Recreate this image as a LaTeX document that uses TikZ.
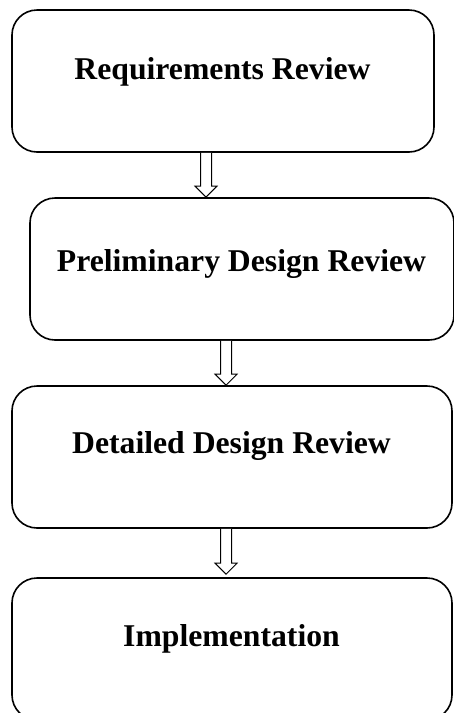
\documentclass[tikz,border=0pt]{standalone}
\usepackage{fontspec}
\setmainfont{Liberation Serif}
\usetikzlibrary{calc}
\tikzset{
  box/.style={draw=black, line width=1.6pt, rounded corners=25pt, fill=white, inner sep=0pt},
  lab/.style={anchor=base, inner sep=0pt, font=\fontsize{31.7}{38}\selectfont\bfseries},
  hollow/.style={draw=black, line width=1pt, fill=white, line join=miter}
}
\newcommand\blkarrow[2]{%
  \draw[hollow] ($(#1)+(-5.5,0)$) -- ($(#2)+(-5.5,-11)$) -- ($(#2)+(-11,-11)$) -- (#2)
    -- ($(#2)+(11,-11)$) -- ($(#2)+(5.5,-11)$) -- ($(#1)+(5.5,0)$);}
\begin{document}
\begin{tikzpicture}[x=1pt, y=-1pt]
  \useasboundingbox (0,0) rectangle (453,713);
  \node[box, minimum width=422pt, minimum height=142pt] (b1) at (223,81) {};
  \node[box, minimum width=424pt, minimum height=142pt] (b2) at (242,269) {};
  \node[box, minimum width=440pt, minimum height=142pt] (b3) at (232,457) {};
  \node[box, minimum width=440pt, minimum height=142pt] (b4) at (232,649) {};
  \node[lab] (t1) at (222.5,79) {Requirements Review};
  \node[lab] (t2) at (241.5,271) {Preliminary Design Review};
  \node[lab] (t3) at (231.5,453) {Detailed Design Review};
  \node[lab] (t4) at (231.5,646) {Implementation};
  \coordinate (x1) at (206,0);
  \coordinate (x2) at (226,0);
  \coordinate (s1) at (b1.south -| x1);
  \coordinate (e1) at (b2.north -| x1);
  \coordinate (s2) at (b2.south -| x2);
  \coordinate (e2) at (b3.north -| x2);
  \coordinate (s3) at (b3.south -| x2);
  \coordinate (e3) at ($(b4.north -| x2)+(0,-3)$);
  \blkarrow{s1}{e1}
  \blkarrow{s2}{e2}
  \blkarrow{s3}{e3}
\end{tikzpicture}
\end{document}
